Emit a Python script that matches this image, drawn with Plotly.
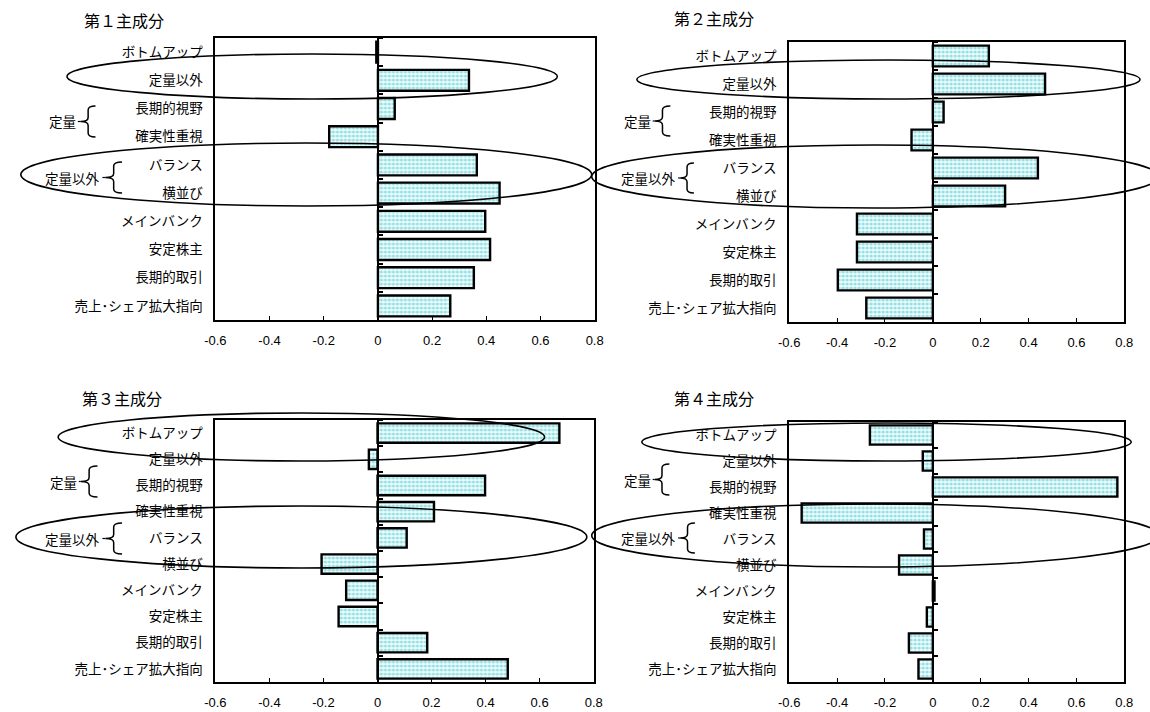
import plotly.graph_objects as go

# Factor loadings of the four principal components
categories = ["ボトムアップ", "定量以外", "長期的視野", "確実性重視", "バランス",
              "横並び", "メインバンク", "安定株主", "長期的取引", "売上･シェア拡大指向"]
pc1 = [-0.006, 0.336, 0.062, -0.180, 0.365, 0.449, 0.396, 0.414, 0.354, 0.267]
pc2 = [0.234, 0.469, 0.045, -0.089, 0.439, 0.302, -0.317, -0.317, -0.397, -0.278]
pc3 = [0.673, -0.032, 0.398, 0.209, 0.108, -0.207, -0.116, -0.144, 0.184, 0.482]
pc4 = [-0.263, -0.042, 0.771, -0.548, -0.037, -0.141, 0.007, -0.025, -0.100, -0.060]
titles = ["第１主成分", "第２主成分", "第３主成分", "第４主成分"]
x_ticks = [-0.6, -0.4, -0.2, 0, 0.2, 0.4, 0.6, 0.8]
x_tick_labels = ["-0.6", "-0.4", "-0.2", "0", "0.2", "0.4", "0.6", "0.8"]
group_labels = ["定量", "定量以外"]

W, H = 1150, 712
X_MIN, X_MAX = -0.6, 0.8

# Plot boxes in pixels: (left, right, top, bottom)
boxes = [(208, 594, 38, 320), (792, 1133, 42, 322),
         (208, 593, 420, 682), (792, 1133, 422, 682)]
title_pos = [(115, 20), (715, 18), (113, 398), (715, 398)]

# Ellipse outlines (pixels: x0, x1, y0, y1)
ellipses = [
    [(57, 556, 54, 99), (10, 591, 143, 206)],
    [(637, 1149, 60, 99), (591, 1168, 145, 208)],
    [(48, 543, 413, 461), (5, 586, 506, 568)],
    [(642, 1140, 423, 461), (591, 1168, 504, 567)],
]
# Braces: (label right edge, tip x, right x, top y, bottom y)
braces = [
    [(68, 71, 86, 106, 137), (93, 96, 113, 162, 193)],
    [(653, 655, 671, 106, 136), (679, 681, 695, 163, 193)],
    [(69, 71, 88, 466, 497), (93, 96, 113, 523, 554)],
    [(653, 655, 670, 464, 495), (679, 681, 696, 523, 553)],
]

series = [pc1, pc2, pc3, pc4]


def px(x):
    return x / W


def py(y):
    return 1 - y / H


def brace_path(xl, xr, y0, y1):
    xs = xl + (xr - xl) * 0.5
    ym = (y0 + y1) / 2
    r = 4
    pts = [
        ("M", [(xr, y0)]),
        ("Q", [(xs, y0), (xs, y0 + r)]),
        ("L", [(xs, ym - r)]),
        ("Q", [(xs, ym), (xl, ym)]),
        ("Q", [(xs, ym), (xs, ym + r)]),
        ("L", [(xs, y1 - r)]),
        ("Q", [(xs, y1), (xr, y1)]),
    ]
    parts = []
    for cmd, coords in pts:
        parts.append(cmd + " " + " ".join(f"{px(a):.5f},{py(b):.5f}" for a, b in coords))
    return " ".join(parts)


fig = go.Figure()
layout = {}
shapes = []
annotations = []

cat_font = dict(family="Noto Sans CJK JP", size=13.5, color="black")
tick_font = dict(family="Liberation Sans", size=13, color="black")

for i, vals in enumerate(series):
    n = i + 1
    xa, ya, yo = f"x{n}", f"y{n}", f"y{n + 4}"
    xkey = "xaxis" if n == 1 else f"xaxis{n}"
    ykey = "yaxis" if n == 1 else f"yaxis{n}"
    okey = f"yaxis{n + 4}"
    left, right, top, bottom = boxes[i]
    xd = [px(left), px(right)]
    yd = [py(bottom), py(top)]
    zero_pos = xd[0] + (0 - X_MIN) / (X_MAX - X_MIN) * (xd[1] - xd[0])

    fig.add_trace(go.Bar(
        x=vals, y=categories, orientation="h", xaxis=xa, yaxis=ya,
        width=0.74, showlegend=False, hoverinfo="x+y",
        marker=dict(
            color="#e6f8f8",
            line=dict(color="black", width=2.4),
            pattern=dict(shape=".", fgcolor="#2fc4cc", bgcolor="#f3fcfc",
                         size=4, solidity=0.5),
        ),
    ))
    # carrier trace so the zero-line category axis draws its ticks
    fig.add_trace(go.Scatter(
        x=vals, y=categories, xaxis=xa, yaxis=yo, mode="markers",
        marker=dict(opacity=0), hoverinfo="skip", showlegend=False,
    ))

    layout[xkey] = dict(
        domain=xd, anchor=ya, range=[X_MIN, X_MAX],
        tickvals=x_ticks, ticktext=x_tick_labels, tickfont=tick_font,
        ticks="inside", ticklen=4, tickwidth=1, tickcolor="black",
        showline=True, mirror=True, linecolor="black", linewidth=2,
        showgrid=False, zeroline=False, ticklabelstandoff=7,
    )
    layout[ykey] = dict(
        domain=yd, anchor=xa, type="category",
        categoryorder="array", categoryarray=categories,
        range=[len(categories) - 0.5, -0.5],
        showline=True, mirror=True, linecolor="black", linewidth=2,
        ticks="", showgrid=False, zeroline=False,
        tickfont=cat_font, ticklabelstandoff=8,
    )
    layout[okey] = dict(
        overlaying=ya, anchor="free", position=zero_pos, side="right",
        type="category", categoryorder="array", categoryarray=categories,
        range=[len(categories) - 0.5, -0.5],
        showline=True, linecolor="black", linewidth=2,
        ticks="outside", ticklen=4, tickwidth=1.5, tickcolor="black",
        tickson="boundaries", showticklabels=False, showgrid=False,
        zeroline=False,
    )

    tx, ty = title_pos[i]
    annotations.append(dict(
        x=px(tx), y=py(ty), xref="paper", yref="paper", text=titles[i],
        showarrow=False, xanchor="center", yanchor="middle",
        font=dict(family="Noto Sans CJK JP", size=16, color="black"),
    ))

    for (x0, x1, y0, y1) in ellipses[i]:
        shapes.append(dict(
            type="circle", xref="paper", yref="paper", layer="above",
            x0=px(x0), x1=px(x1), y0=py(y1), y1=py(y0),
            line=dict(color="black", width=1.6),
        ))

    for label, (lx, tip, xr, y0, y1) in zip(group_labels, braces[i]):
        shapes.append(dict(
            type="path", xref="paper", yref="paper", layer="above",
            path=brace_path(tip, xr, y0, y1),
            line=dict(color="black", width=1.5),
        ))
        shapes.append(dict(
            type="line", xref="paper", yref="paper", layer="above",
            x0=px(lx), x1=px(tip), y0=py((y0 + y1) / 2), y1=py((y0 + y1) / 2),
            line=dict(color="black", width=1.2),
        ))
        annotations.append(dict(
            x=px(lx), y=py((y0 + y1) / 2), xref="paper", yref="paper",
            text=label, showarrow=False, xanchor="right", yanchor="middle",
            font=dict(family="Noto Sans CJK JP", size=13.5, color="black"),
        ))

fig.update_layout(
    width=W, height=H, margin=dict(l=0, r=0, t=0, b=0),
    paper_bgcolor="white", plot_bgcolor="white",
    showlegend=False, shapes=shapes, annotations=annotations,
    bargap=0.26,
    **layout,
)

fig.write_html("out.html")
